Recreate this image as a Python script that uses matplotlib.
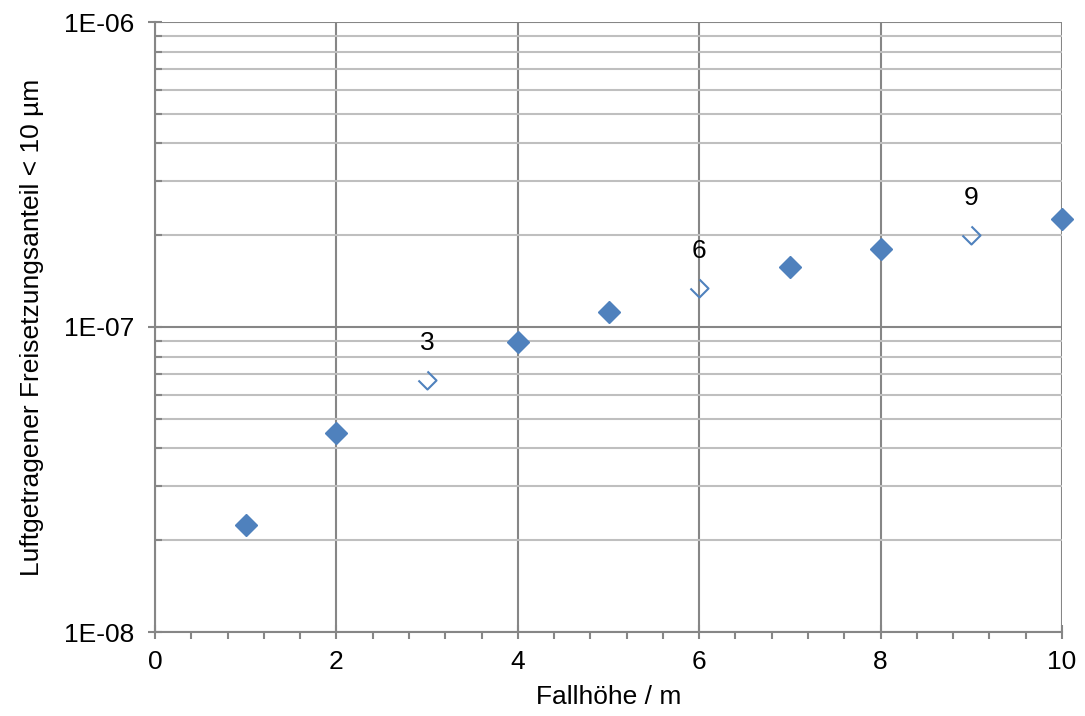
import math
import matplotlib.pyplot as plt
from matplotlib.path import Path
from matplotlib.ticker import FuncFormatter, LogLocator, MultipleLocator, NullFormatter

plt.rcParams['font.family'] = ['Liberation Sans', 'DejaVu Sans']

# measured release fractions
heights = [1, 2, 4, 5, 7, 8, 10]
fractions = [2.24e-8, 4.49e-8, 8.93e-8, 1.12e-7, 1.57e-7, 1.80e-7, 2.26e-7]

# interpolated points (open markers with labels)
open_heights = [3, 6, 9]
open_fractions = [6.7e-8, 1.34e-7, 2.0e-7]
open_labels = ["3", "6", "9"]

blue = "#4F81BD"
dark_grid = "#868686"
light_grid = "#BFBFBF"
fs = 19

# open diamond, missing the upper-left edge
half_diamond = Path([(-1, 0), (0, -1), (1, 0), (0, 1)],
                    [Path.MOVETO, Path.LINETO, Path.LINETO, Path.LINETO])


def sci_label(v, pos):
    return "1E-%02d" % round(-math.log10(v))


fig = plt.figure(figsize=(10.85, 7.16), dpi=100)
ax = fig.add_axes([155 / 1085, 84 / 716, 907 / 1085, 610 / 716])

ax.set_yscale("log")
ax.set_xlim(0, 10)
ax.set_ylim(1e-8, 1e-6)

ax.xaxis.set_major_locator(MultipleLocator(2))
ax.xaxis.set_minor_locator(MultipleLocator(0.4))
ax.yaxis.set_major_locator(LogLocator(base=10, numticks=5))
ax.yaxis.set_minor_locator(LogLocator(base=10, subs=range(2, 10), numticks=20))
ax.yaxis.set_major_formatter(FuncFormatter(sci_label))
ax.yaxis.set_minor_formatter(NullFormatter())

ax.grid(which="major", axis="both", color=dark_grid, linewidth=1.5)
ax.grid(which="minor", axis="y", color=light_grid, linewidth=1.5)
ax.set_axisbelow(True)

for side in ["top", "right"]:
    ax.spines[side].set_visible(False)
for side in ["left", "bottom"]:
    ax.spines[side].set_color(dark_grid)
    ax.spines[side].set_linewidth(1.5)

ax.tick_params(which="major", direction="inout", length=10, width=1.5,
               color=dark_grid, labelsize=fs)
ax.tick_params(axis="x", which="major", pad=8)
ax.tick_params(axis="y", which="major", pad=10)
ax.tick_params(axis="x", which="minor", direction="out", length=5, width=1.5, color=dark_grid)
ax.tick_params(axis="y", which="minor", direction="in", length=5, width=1.5, color=dark_grid)

ax.plot(heights, fractions, linestyle="none", marker="D", markersize=11,
        color=blue, clip_on=False, zorder=3)
ax.plot(open_heights, open_fractions, linestyle="none", marker=half_diamond,
        markersize=13, markerfacecolor="none", markeredgecolor=blue,
        markeredgewidth=1.5, clip_on=False, zorder=3)

for h, f, lab in zip(open_heights, open_fractions, open_labels):
    ax.annotate(lab, (h, f), xytext=(0, 18), textcoords="offset points",
                ha="center", va="bottom", fontsize=fs)

ax.set_xlabel("Fallhöhe / m", fontsize=fs, labelpad=8)
ax.set_ylabel("Luftgetragener Freisetzungsanteil < 10 µm", fontsize=fs, labelpad=14)

fig.savefig("out.png", dpi=100)
